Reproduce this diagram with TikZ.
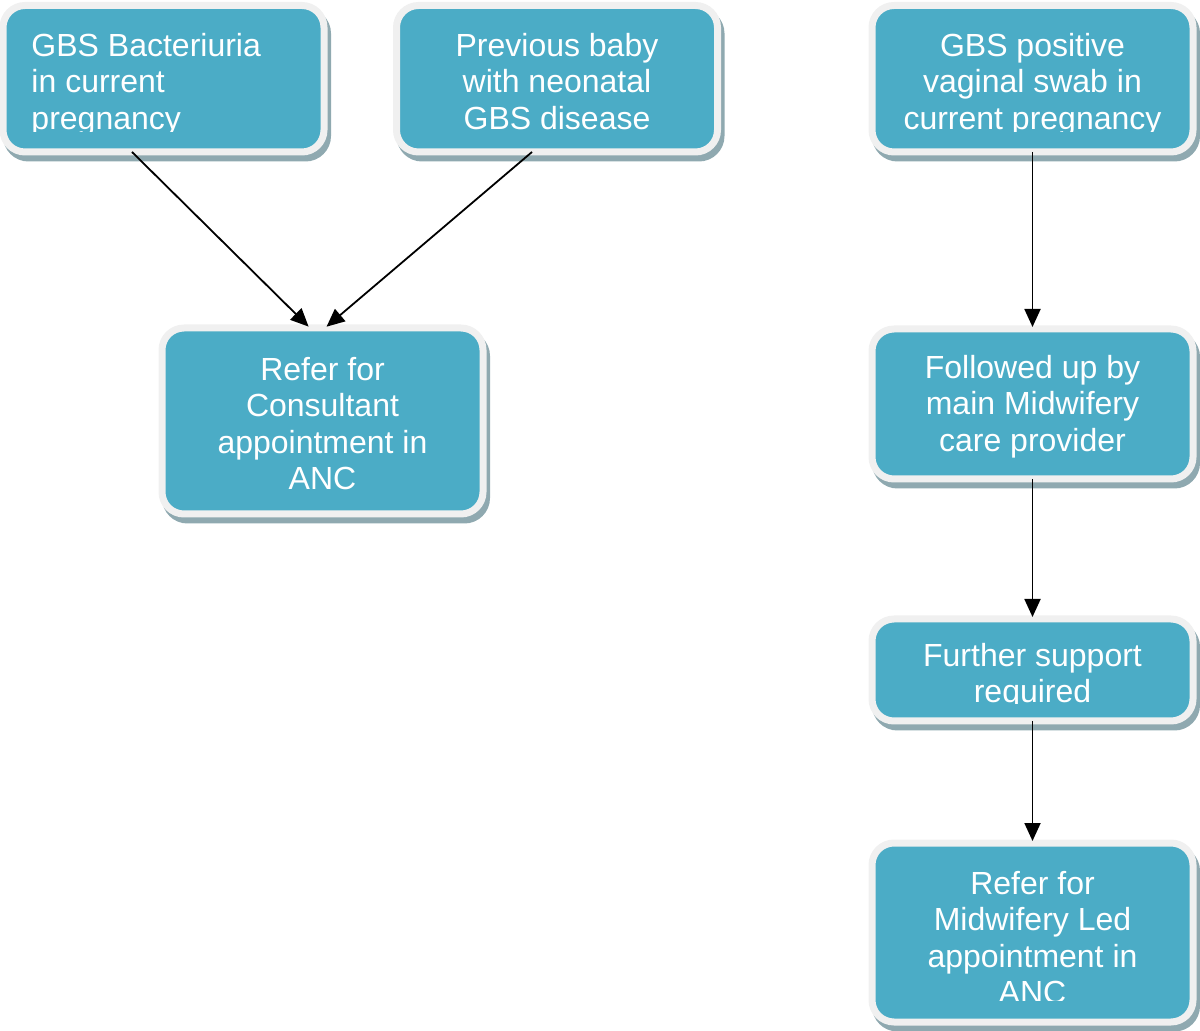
\documentclass[tikz,border=0pt]{standalone}
\usepackage{fontspec}
\setmainfont{Liberation Sans}
\usepackage{array,trimclip}
\usetikzlibrary{arrows.meta,shadows}
\definecolor{gbsteal}{HTML}{4BACC6}
\definecolor{gbsrim}{HTML}{F0F0F0}
\definecolor{gbsshade}{RGB}{143,169,176}
\newcommand{\cliptext}[3]{\clipbox*{-4pt #2 {\width+4pt} {\height+2pt}}{\begin{tabular}[b]{@{}#1@{}}#3\end{tabular}}}
\tikzset{
  flowbox/.style={rectangle,rounded corners=11pt,fill=gbsteal,draw=gbsrim,line width=3.5pt,
    minimum width=160.5pt,inner sep=0pt,outer sep=0pt,text=white,font={\fontsize{16pt}{18.25pt}\selectfont},
    drop shadow={shadow xshift=1.75pt,shadow yshift=-3pt,fill=gbsshade,draw=gbsshade,line width=3.5pt,opacity=1}},
  flowline/.style={->,line width=0.9pt,shorten >=1pt}
}
\begin{document}
\begin{tikzpicture}[x=0.5pt,y=-0.5pt,>={Triangle[length=9pt,width=8pt]}]
\useasboundingbox (0,0) rectangle (1200,1031);
\node[flowbox,minimum height=73.25pt] (bact) at (163.5,78.75) {\cliptext{>{\raggedright\arraybackslash}p{132pt}}{-1pt}{GBS Bacteriuria\\in current\\pregnancy}};
\node[flowbox,minimum height=73.25pt] (prev) at (557,78.75) {\cliptext{c}{-1pt}{Previous baby\\with neonatal\\GBS disease}};
\node[flowbox,minimum height=93pt] (cons) at (322.5,421) {\cliptext{c}{-1pt}{Refer for\\Consultant\\appointment in\\ANC}};
\node[flowbox,minimum height=73.25pt] (swab) at (1032.5,78.75) {\cliptext{c}{-1pt}{GBS positive\\vaginal swab in\\current pregnancy}};
\node[flowbox,minimum height=75pt] (follow) at (1032.5,404) {\cliptext{c}{-4pt}{Followed up by\\main Midwifery\\care provider}};
\node[flowbox,minimum height=51pt] (support) at (1032.5,670) {\cliptext{c}{-0.5pt}{Further support\\required}};
\node[flowbox,minimum height=89.5pt] (mled) at (1032.5,932.5) {\cliptext{c}{1.5pt}{Refer for\\Midwifery Led\\appointment in\\ANC}};
\draw[flowline] ([xshift=-15.75pt]bact.south) -- ([xshift=-6.25pt]cons.north);
\draw[flowline] ([xshift=-12.5pt]prev.south) -- ([xshift=1.25pt]cons.north);
\draw[flowline] (swab.south) -- (follow.north);
\draw[flowline] (follow.south) -- (support.north);
\draw[flowline] (support.south) -- (mled.north);
\end{tikzpicture}
\end{document}
